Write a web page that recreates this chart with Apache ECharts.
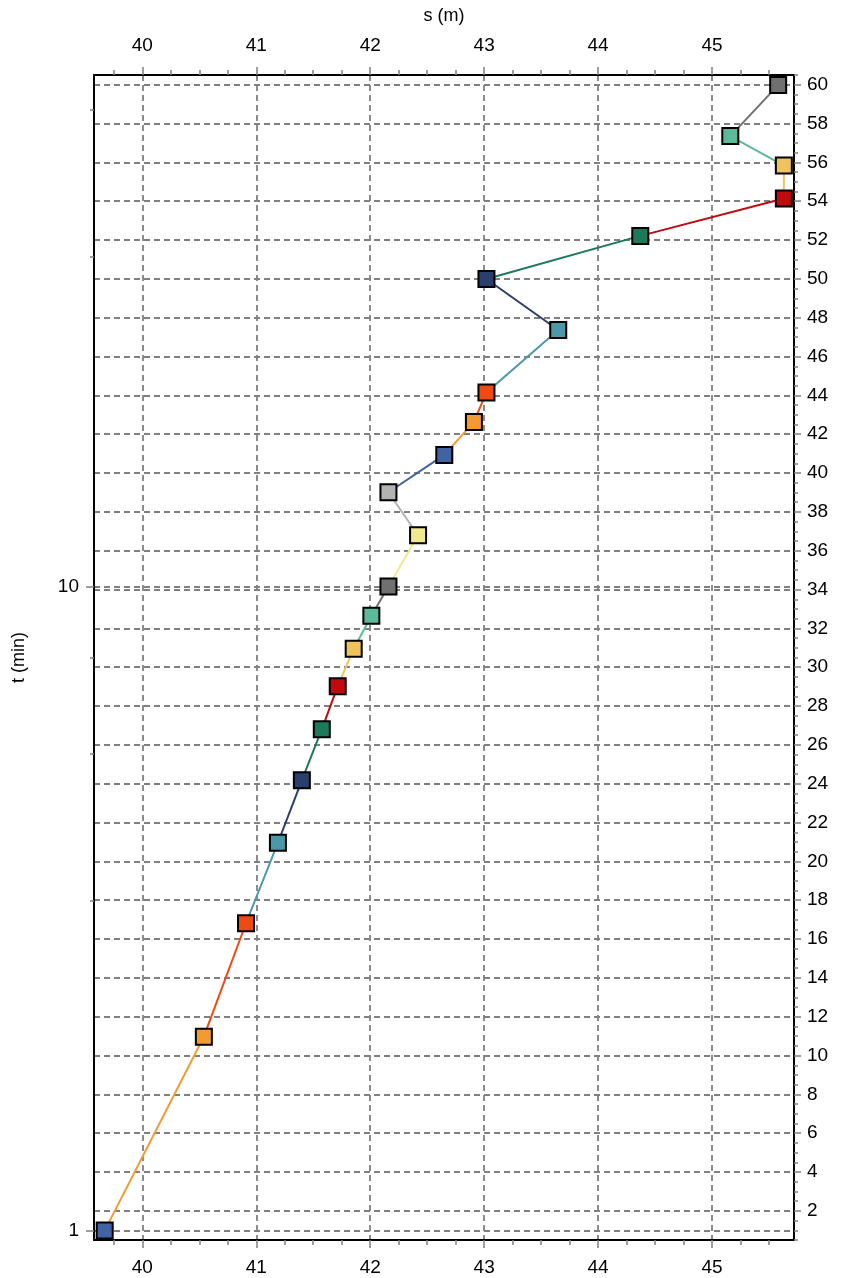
<!DOCTYPE html>
<html>
<head>
<meta charset="utf-8">
<script src="https://cdn.jsdelivr.net/npm/echarts@6/dist/echarts.min.js"></script>
<style>
html,body{margin:0;padding:0;background:#fff;}
#chart{width:846px;height:1278px;}
</style>
</head>
<body>
<div id="chart"></div>
<script>
// ---- data ----
const tValues = [1, 2, 3, 4, 5, 6, 7, 8, 9, 10, 12, 14, 16, 18, 20, 25, 30, 35, 40, 45, 50, 60];
const sValues = [39.67, 40.54, 40.91, 41.19, 41.40, 41.575, 41.715, 41.855, 42.01, 42.16, 42.42, 42.16, 42.65, 42.91, 43.02, 43.65, 43.02, 44.37, 45.63, 45.63, 45.16, 45.58];
const sTicks = [40, 41, 42, 43, 44, 45];
const sMinorTicks = [39.75, 40.25, 40.5, 40.75, 41.25, 41.5, 41.75, 42.25, 42.5, 42.75, 43.25, 43.5, 43.75, 44.25, 44.5, 44.75, 45.25, 45.5];
const tTicks = [1, 10];
const tMinorTicks = [3.25, 5.5, 7.75, 32.5, 55];
const rightTicks = [2, 4, 6, 8, 10, 12, 14, 16, 18, 20, 22, 24, 26, 28, 30, 32, 34, 36, 38, 40, 42, 44, 46, 48, 50, 52, 54, 56, 58, 60];
const rightMinorTicks = [0.5, 1, 1.5, 2.5, 3, 3.5, 4.5, 5, 5.5, 6.5, 7, 7.5, 8.5, 9, 9.5, 10.5, 11, 11.5, 12.5, 13, 13.5, 14.5, 15, 15.5, 16.5, 17, 17.5, 18.5, 19, 19.5, 20.5, 21, 21.5, 22.5, 23, 23.5, 24.5, 25, 25.5, 26.5, 27, 27.5, 28.5, 29, 29.5, 30.5, 31, 31.5, 32.5, 33, 33.5, 34.5, 35, 35.5, 36.5, 37, 37.5, 38.5, 39, 39.5, 40.5, 41, 41.5, 42.5, 43, 43.5, 44.5, 45, 45.5, 46.5, 47, 47.5, 48.5, 49, 49.5, 50.5, 51, 51.5, 52.5, 53, 53.5, 54.5, 55, 55.5, 56.5, 57, 57.5, 58.5, 59, 59.5, 60.5];

// ---- style ----
const palette = ['#4263a3', '#f29b33', '#ee4b12', '#4d98a8', '#2a3f6b', '#1c7a5a', '#bf0a10', '#f0c25c', '#5cb99a', '#707070', '#f2e88e', '#b3b3b3'];
const FONT = "'Liberation Sans', Arial, sans-serif";
const gridLine = { show: true, lineStyle: { color: '#808080', width: 1.8, type: [6, 4] } };
const tickStyle = { color: '#808080', width: 1.5 };
const axisLineBlack = { show: true, lineStyle: { color: '#000', width: 2 } };
const labelStyle = { color: '#000', fontSize: 19, fontFamily: FONT };
const S_MIN = 39.576, S_MAX = 45.719;
const T_MIN = 0.967, T_MAX = 62.2;
const R_MIN = 0.5, R_MAX = 60.5;

const chart = echarts.init(document.getElementById('chart'), null, { renderer: 'canvas' });

const series = [];
for (let i = 1; i < tValues.length; i++) {
  series.push({
    type: 'line',
    xAxisIndex: 0, yAxisIndex: 0,
    data: [[sValues[i - 1], tValues[i - 1]], [sValues[i], tValues[i]]],
    showSymbol: false, symbol: 'none',
    lineStyle: { color: palette[i % palette.length], width: 2, opacity: 1 },
    z: 2, silent: true
  });
}
series.push({
  type: 'scatter',
  xAxisIndex: 0, yAxisIndex: 0,
  symbol: 'rect', symbolSize: 16,
  data: tValues.map((t, i) => ({
    value: [sValues[i], t],
    itemStyle: { color: palette[i % palette.length], borderColor: '#000', borderWidth: 2, opacity: 1 }
  })),
  itemStyle: { opacity: 1 },
  z: 5
});

const option = {
  animation: false,
  backgroundColor: '#fff',
  grid: { left: 94, right: 52, top: 75, bottom: 38, containLabel: false },
  xAxis: [
    {
      type: 'value', position: 'top', min: S_MIN, max: S_MAX,
      name: 's (m)', nameLocation: 'middle', nameGap: 50,
      nameTextStyle: { color: '#000', fontSize: 18, fontFamily: FONT },
      axisLine: axisLineBlack,
      axisTick: { show: true, customValues: sTicks, length: 8, lineStyle: tickStyle },
      axisLabel: Object.assign({ customValues: sTicks, margin: 20 }, labelStyle),
      splitLine: gridLine
    },
    {
      type: 'value', position: 'bottom', min: S_MIN, max: S_MAX,
      axisLine: axisLineBlack,
      axisTick: { show: true, customValues: sTicks, length: 8, lineStyle: tickStyle },
      axisLabel: Object.assign({ customValues: sTicks, margin: 18 }, labelStyle),
      splitLine: { show: false }
    },
    {
      type: 'value', position: 'top', min: S_MIN, max: S_MAX,
      axisLine: { show: false },
      axisTick: { show: true, customValues: sMinorTicks, length: 5, lineStyle: tickStyle },
      axisLabel: { show: false }, splitLine: { show: false }
    },
    {
      type: 'value', position: 'bottom', min: S_MIN, max: S_MAX,
      axisLine: { show: false },
      axisTick: { show: true, customValues: sMinorTicks, length: 5, lineStyle: tickStyle },
      axisLabel: { show: false }, splitLine: { show: false }
    }
  ],
  yAxis: [
    {
      type: 'log', logBase: 10, position: 'left', min: T_MIN, max: T_MAX,
      name: 't (min)', nameLocation: 'middle', nameGap: 66, nameRotate: 90,
      nameTextStyle: { color: '#000', fontSize: 18, fontFamily: FONT },
      axisLine: axisLineBlack,
      axisTick: { show: true, customValues: tTicks, length: 8, lineStyle: tickStyle },
      axisLabel: Object.assign({ customValues: tTicks, margin: 15 }, labelStyle),
      splitLine: gridLine
    },
    {
      type: 'log', logBase: 10, position: 'left', min: T_MIN, max: T_MAX,
      axisLine: { show: false },
      axisTick: { show: true, customValues: tMinorTicks, length: 4, lineStyle: tickStyle },
      axisLabel: { show: false }, splitLine: { show: false }
    },
    {
      type: 'value', position: 'right', min: R_MIN, max: R_MAX,
      axisLine: axisLineBlack,
      axisTick: { show: true, customValues: rightTicks, length: 7, lineStyle: tickStyle },
      axisLabel: Object.assign({ customValues: rightTicks, margin: 13 }, labelStyle),
      splitLine: gridLine
    },
    {
      type: 'value', position: 'right', min: R_MIN, max: R_MAX,
      axisLine: { show: false },
      axisTick: { show: true, customValues: rightMinorTicks, length: 4, lineStyle: tickStyle },
      axisLabel: { show: false }, splitLine: { show: false }
    }
  ],
  series: series
};
chart.setOption(option);
</script>
</body>
</html>
